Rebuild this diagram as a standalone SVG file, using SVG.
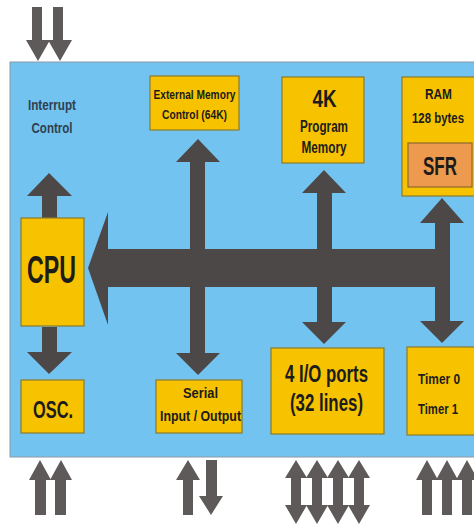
<svg xmlns="http://www.w3.org/2000/svg" width="474" height="524" viewBox="0 0 474 524">
<style>
.board{fill:#72c3ef;stroke:#8a9aa6;stroke-width:1}
.box{fill:#f7c300;stroke:#8c7a2c;stroke-width:1.2}
.sfr{fill:#ee9a4e;stroke:#8c6a2c;stroke-width:1.2}
.bus{fill:#4d4848}
.io{fill:#5e5a5a}
text{font-family:"Liberation Sans",Arial,sans-serif;font-weight:bold;fill:#1c1c1c;text-anchor:middle}
.lbl{fill:#2f3f50}
</style>
<rect width="474" height="524" fill="#ffffff"/>
<rect class="board" x="10" y="62" width="470" height="395"/>

<g id="connectors">
  <!-- main bus arrow into CPU -->
  <polygon class="bus" points="88,268 108,212 108,249 450,249 450,287 108,287 108,325"/>
  <!-- RAM / Timer double arrow -->
  <polygon class="bus" points="442,198 464,223 450,223 450,321 464,321 442,343 420,321 435,321 435,223 420,223"/>
  <!-- Program memory / IO double arrow -->
  <polygon class="bus" points="324,170 346,193 332,193 332,322 346,322 324,344 302,322 317,322 317,193 302,193"/>
  <!-- External memory / Serial double arrow -->
  <polygon class="bus" points="198,139 220,162 205,162 205,353 220,353 198,375 176,353 190,353 190,162 176,162"/>
  <!-- CPU to interrupt (up) -->
  <polygon class="bus" points="49,173 72,196 57,196 57,218 42,218 42,196 27,196"/>
  <!-- CPU to OSC (down) -->
  <polygon class="bus" points="42,327 57,327 57,352 72,352 49,374 27,352 42,352"/>

  <!-- external interrupt inputs -->
  <polygon class="io" points="32,7 42,7 42,40 50,40 38,61 26,40 32,40"/>
  <polygon class="io" points="53,7 63,7 63,40 72,40 60,61 48,40 53,40"/>

  <!-- OSC inputs -->
  <polygon class="io" points="40,460 51,480 46,480 46,515 35,515 35,480 29,480"/>
  <polygon class="io" points="61,460 72,480 66,480 66,515 55,515 55,480 50,480"/>

  <!-- serial -->
  <polygon class="io" points="188,460 200,480 193,480 193,515 183,515 183,480 176,480"/>
  <polygon class="io" points="206,460 217,460 217,496 223,496 211,515 199,496 206,496"/>

  <!-- IO ports double arrows -->
  <polygon class="io" points="296,460 307,478 301,478 301,505 307,505 296,524 285,505 291,505 291,478 285,478"/>
  <polygon class="io" points="317,460 328,478 322,478 322,505 328,505 317,524 306,505 312,505 312,478 306,478"/>
  <polygon class="io" points="338,460 349,478 343,478 343,505 349,505 338,524 327,505 333,505 333,478 327,478"/>
  <polygon class="io" points="359,460 370,478 364,478 364,505 370,505 359,524 348,505 354,505 354,478 348,478"/>

  <!-- timer inputs -->
  <polygon class="io" points="427,460 438,480 432,480 432,515 422,515 422,480 416,480"/>
  <polygon class="io" points="447,460 458,480 452,480 452,515 442,515 442,480 436,480"/>
  <polygon class="io" points="467,460 478,480 472,480 472,515 462,515 462,480 456,480"/>
</g>

<g id="interrupt">
  <text class="lbl" x="52" y="110" font-size="14" textLength="48" lengthAdjust="spacingAndGlyphs">Interrupt</text>
  <text class="lbl" x="52" y="133" font-size="14" textLength="41" lengthAdjust="spacingAndGlyphs">Control</text>
</g>

<g id="extmem">
  <rect class="box" x="150" y="76" width="89" height="54"/>
  <text x="194.5" y="99" font-size="12.5" textLength="82" lengthAdjust="spacingAndGlyphs">External Memory</text>
  <text x="194.5" y="119" font-size="12.5" textLength="65" lengthAdjust="spacingAndGlyphs">Control (64K)</text>
</g>

<g id="progmem">
  <rect class="box" x="282" y="77" width="82" height="86"/>
  <text x="324.5" y="107" font-size="24" textLength="24" lengthAdjust="spacingAndGlyphs">4K</text>
  <text x="324" y="132" font-size="16" textLength="48" lengthAdjust="spacingAndGlyphs">Program</text>
  <text x="324" y="153" font-size="16" textLength="45" lengthAdjust="spacingAndGlyphs">Memory</text>
</g>

<g id="ram">
  <rect class="box" x="402" y="77" width="80" height="119"/>
  <text x="438.5" y="99" font-size="15" textLength="27" lengthAdjust="spacingAndGlyphs">RAM</text>
  <text x="438" y="123" font-size="14.5" textLength="52" lengthAdjust="spacingAndGlyphs">128 bytes</text>
  <g id="sfr">
    <rect class="sfr" x="408" y="143" width="64" height="44"/>
    <text x="440" y="175" font-size="25" textLength="34" lengthAdjust="spacingAndGlyphs">SFR</text>
  </g>
</g>

<g id="cpu">
  <rect class="box" x="21" y="218" width="63" height="108"/>
  <text x="51.5" y="283" font-size="38" textLength="49" lengthAdjust="spacingAndGlyphs">CPU</text>
</g>

<g id="osc">
  <rect class="box" x="21" y="380" width="63" height="53"/>
  <text x="53" y="418" font-size="24" textLength="40" lengthAdjust="spacingAndGlyphs">OSC.</text>
</g>

<g id="serial">
  <rect class="box" x="156" y="380" width="86" height="53"/>
  <text x="200.5" y="398" font-size="14" textLength="35" lengthAdjust="spacingAndGlyphs">Serial</text>
  <text x="200.5" y="421" font-size="14" textLength="81" lengthAdjust="spacingAndGlyphs">Input / Output</text>
</g>

<g id="ioports">
  <rect class="box" x="271" y="348" width="113" height="86"/>
  <text x="326.5" y="382" font-size="23" textLength="83" lengthAdjust="spacingAndGlyphs">4 I/O ports</text>
  <text x="326.5" y="411" font-size="23" textLength="73" lengthAdjust="spacingAndGlyphs">(32 lines)</text>
</g>

<g id="timers">
  <rect class="box" x="407" y="347" width="75" height="88"/>
  <text x="439" y="384" font-size="15" textLength="42" lengthAdjust="spacingAndGlyphs">Timer 0</text>
  <text x="438" y="414" font-size="15" textLength="40" lengthAdjust="spacingAndGlyphs">Timer 1</text>
</g>
</svg>
